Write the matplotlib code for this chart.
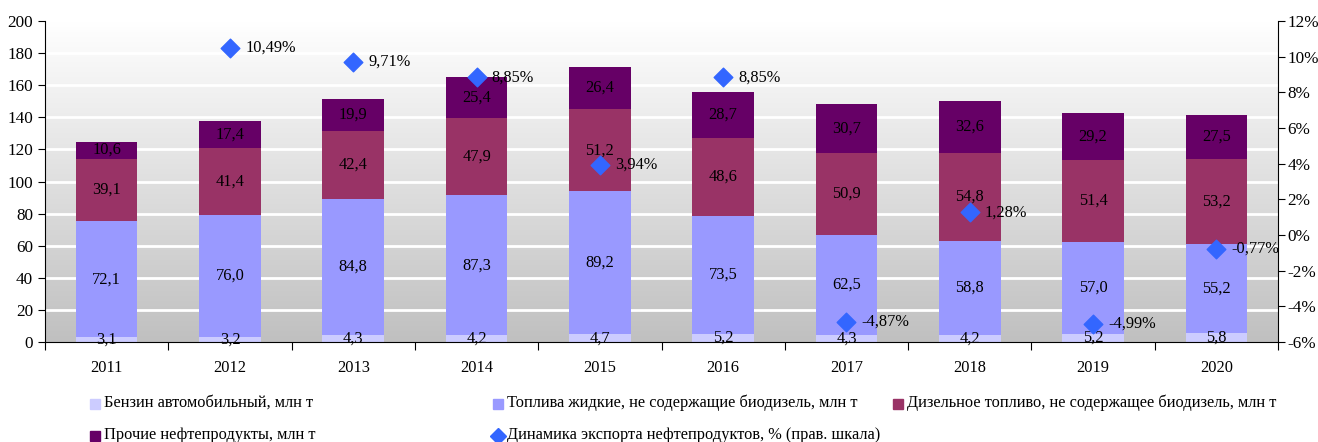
import matplotlib
matplotlib.use("Agg")
import matplotlib.pyplot as plt
import numpy as np
from matplotlib.lines import Line2D
from matplotlib.patches import Patch
from matplotlib.ticker import FuncFormatter

years = ["2011", "2012", "2013", "2014", "2015", "2016", "2017", "2018", "2019", "2020"]
benzin = [3.1, 3.2, 4.3, 4.2, 4.7, 5.2, 4.3, 4.2, 5.2, 5.8]
liquid = [72.1, 76.0, 84.8, 87.3, 89.2, 73.5, 62.5, 58.8, 57.0, 55.2]
diesel = [39.1, 41.4, 42.4, 47.9, 51.2, 48.6, 50.9, 54.8, 51.4, 53.2]
other = [10.6, 17.4, 19.9, 25.4, 26.4, 28.7, 30.7, 32.6, 29.2, 27.5]
dyn_years = ["2012", "2013", "2014", "2015", "2016", "2017", "2018", "2019", "2020"]
dynamics = [10.49, 9.71, 8.85, 3.94, 8.85, -4.87, 1.28, -4.99, -0.77]

series_names = ["Бензин автомобильный, млн т",
                "Топлива жидкие, не содержащие биодизель, млн т",
                "Дизельное топливо, не содержащее биодизель, млн т",
                "Прочие нефтепродукты, млн т"]
dyn_name = "Динамика экспорта нефтепродуктов, % (прав. шкала)"
colors = ["#ccccff", "#9999ff", "#993366", "#660066"]
diamond_color = "#3366ff"

plt.rcParams['font.family'] = ['Liberation Serif', 'DejaVu Serif']
FS = 11.8

fig = plt.figure(figsize=(13.18, 4.42), dpi=100)
ax = fig.add_axes([45/1318, 1-342/442, (1278-45)/1318, (342-21)/442])

# gradient background
grad = np.linspace(0, 1, 256).reshape(-1, 1)
top = np.array([1.0, 1.0, 1.0])
bot = np.array([0xc0, 0xc0, 0xc0]) / 255
img = bot + (top - bot) * grad
img = np.repeat(img[:, None, :], 2, axis=1).reshape(256, 2, 3)
ax.imshow(img, extent=[0, 1, 0, 1], transform=ax.transAxes, origin='lower',
          aspect='auto', zorder=0)

x = np.arange(len(years))
ax.set_xlim(-0.5, len(years) - 0.5)
ax.set_ylim(0, 200)
ax.set_yticks(np.arange(0, 201, 20))
for yv in np.arange(20, 201, 20):
    ax.axhline(yv, color='white', lw=2, zorder=1)

bottom = np.zeros(len(years))
for vals, c in zip([benzin, liquid, diesel, other], colors):
    vals = np.array(vals)
    ax.bar(x, vals, width=0.5, bottom=bottom, color=c, zorder=2)
    for xi, b, v in zip(x, bottom, vals):
        ax.text(xi, b + v / 2, f"{v:.1f}".replace('.', ','), ha='center', va='center',
                fontsize=FS, color='black', zorder=5)
    bottom = bottom + vals

ax.set_xticks(np.arange(-0.5, len(years), 1))
ax.set_xticklabels([])
ax.tick_params(axis='x', length=6, direction='out')
for xi, yr in zip(x, years):
    ax.text(xi, -0.055, yr, transform=ax.get_xaxis_transform(), ha='center', va='top', fontsize=FS)
ax.tick_params(axis='y', labelsize=12.3, length=5)
for s in ['top', 'right']:
    ax.spines[s].set_visible(False)

ax2 = ax.twinx()
ax2.set_ylim(-6, 12)
ax2.set_yticks(np.arange(-6, 13, 2))
ax2.yaxis.set_major_formatter(FuncFormatter(lambda v, p: f"{int(v)}%"))
ax2.tick_params(axis='y', labelsize=12.3, length=5, pad=2)
for s in ['top', 'left', 'bottom']:
    ax2.spines[s].set_visible(False)
dx = [years.index(y) for y in dyn_years]
ax2.scatter(dx, dynamics, marker='D', s=90, color=diamond_color, zorder=6)
for xi, v in zip(dx, dynamics):
    ax2.annotate(f"{v:.2f}%".replace('.', ','), (xi, v), xytext=(11, 0),
                 textcoords='offset points', ha='left', va='center', fontsize=FS)
ax2.set_xlim(-0.5, len(years) - 0.5)

handles = [Patch(color=c) for c in colors] + [
    Line2D([], [], marker='D', color=diamond_color, ls='none', markersize=9)]
names = series_names + [dyn_name]
pos = [(90, 403), (493, 403), (893, 403), (90, 435), (493, 435)]
for h, n, (px, py) in zip(handles, names, pos):
    fx, fy = px / 1318, 1 - py / 442
    if isinstance(h, Patch):
        fig.patches.append(plt.Rectangle((fx, fy - 0.014), 10/1318, 10/442, color=h.get_facecolor(),
                                         transform=fig.transFigure, figure=fig))
    else:
        fig.lines.append(Line2D([fx + 5/1318], [fy - 0.003], marker='D', color=diamond_color,
                                markersize=8, transform=fig.transFigure, figure=fig))
    fig.text(fx + 14/1318, fy, n, ha='left', va='center', fontsize=FS)

fig.savefig("out.png", dpi=100)
